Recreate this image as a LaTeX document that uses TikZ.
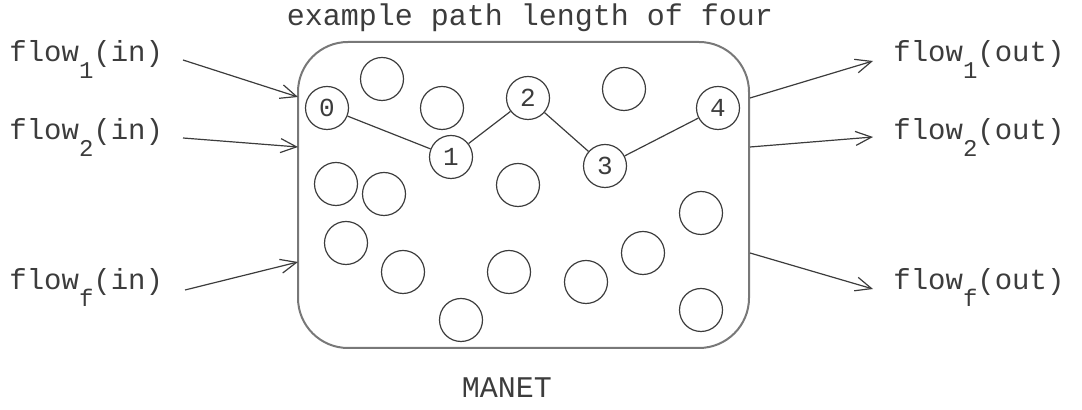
\documentclass[tikz,border=0pt]{standalone}
\usepackage{fontspec}
\setmonofont{Liberation Mono}
\usetikzlibrary{arrows.meta}
\definecolor{ink}{RGB}{60,60,60}
\definecolor{rim}{RGB}{120,120,120}
\tikzset{
  lbl/.style={font=\ttfamily\fontsize{14.5}{14.5}\selectfont,inner sep=0pt,text=ink},
  host/.style={circle,draw=ink,line width=0.6pt,minimum size=21.5pt,inner sep=0pt,
    font=\ttfamily\fontsize{13}{13}\selectfont,text=ink},
  hop/.style={draw=ink,line width=0.6pt},
  flowarr/.style={-{Straight Barb[length=8pt,width=7pt]},draw=ink,line width=0.6pt},
}
\newcommand{\flowlbl}[2]{flow\raisebox{-8.5pt}{\fontsize{12}{12}\selectfont#1}(#2)}

\begin{document}
\begin{tikzpicture}[x=0.5pt,y=-0.5pt]
  \useasboundingbox (0,0) rectangle (1082,410);
  % network area
  \node[draw=rim,line width=1pt,rounded corners=25pt,minimum width=225.5pt,
    minimum height=153pt,inner sep=0pt] (manet) at (523.5,195) {};
  \node[lbl,font=\ttfamily\fontsize{15}{15}\selectfont,anchor=base] (title) at (530,26)
    {example path length of four};
  \node[lbl,font=\ttfamily\fontsize{15}{15}\selectfont,anchor=base] (name) at (507,398) {MANET};
  % hosts on the path
  \node[host] (n0) at (327,108) {0};
  \node[host] (n1) at (451,157) {1};
  \node[host] (n2) at (528,98) {2};
  \node[host] (n3) at (605,166) {3};
  \node[host] (n4) at (718,108) {4};
  \draw[hop] (n0) -- (n1) -- (n2) -- (n3) -- (n4);
  % other hosts
  \foreach \p [count=\i] in {(382,79),(442,108),(624,89),(336,184),(384,194),
      (518,185),(701,213),(346,243),(403,272),(509,272),(586,282),(643,253),
      (701,310),(461,320)}
    \node[host] (h\i) at \p {};
  % flows in
  \node[lbl,anchor=base west] (fin1) at (9,62) {\flowlbl{1}{in}};
  \node[lbl,anchor=base west] (fin2) at (9,140) {\flowlbl{2}{in}};
  \node[lbl,anchor=base west] (finf) at (9,290) {\flowlbl{f}{in}};
  \coordinate (a1) at (183,60);  \coordinate (b1) at (298,97);
  \coordinate (a2) at (183,138); \coordinate (b2) at (298,147);
  \coordinate (af) at (185,290); \coordinate (bf) at (298,262);
  \draw[flowarr] (a1) -- (b1);
  \draw[flowarr] (a2) -- (b2);
  \draw[flowarr] (af) -- (bf);
  % flows out
  \node[lbl,anchor=base west] (fout1) at (893,62) {\flowlbl{1}{out}};
  \node[lbl,anchor=base west] (fout2) at (893,140) {\flowlbl{2}{out}};
  \node[lbl,anchor=base west] (foutf) at (893,290) {\flowlbl{f}{out}};
  \coordinate (c1) at (750,98);  \coordinate (d1) at (873,61);
  \coordinate (c2) at (750,147); \coordinate (d2) at (873,137);
  \coordinate (cf) at (750,253); \coordinate (df) at (873,289);
  \draw[flowarr] (c1) -- (d1);
  \draw[flowarr] (c2) -- (d2);
  \draw[flowarr] (cf) -- (df);
\end{tikzpicture}
\end{document}
